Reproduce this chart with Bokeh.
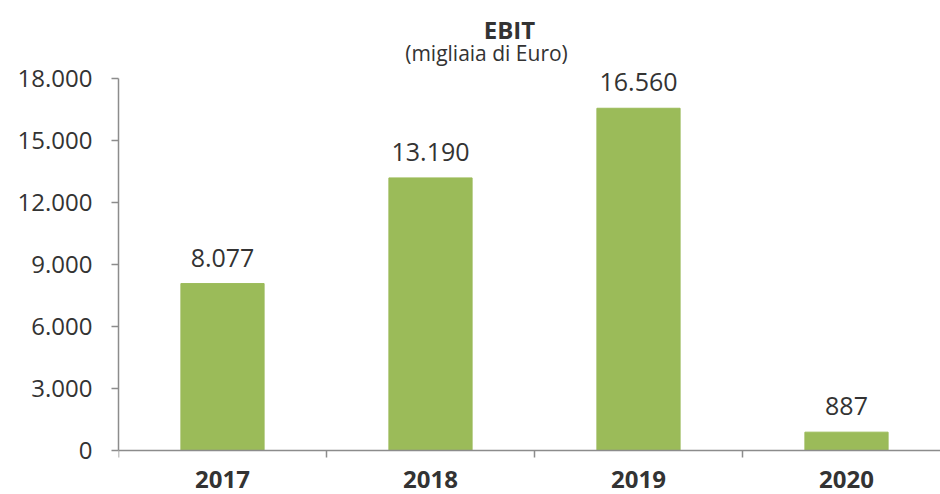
from bokeh.plotting import figure
from bokeh.models import (Range1d, FixedTicker, ColumnDataSource, LabelSet,
                          Label, LinearAxis)
from bokeh.core.properties import value
from bokeh.embed import file_html
from bokeh.resources import INLINE

# ---- data ----
years = ["2017", "2018", "2019", "2020"]
ebit = [8077, 13190, 16560, 887]
y_ticks = [0, 3000, 6000, 9000, 12000, 15000, 18000]
y_tick_labels = ["0", "3.000", "6.000", "9.000", "12.000", "15.000", "18.000"]
title_text = "EBIT"
subtitle_text = "(migliaia di Euro)"

FONT = "Open Sans"
TEXT = "#333333"
AXIS = "#8c8c8c"
GREEN = "#9BBB59"

# ---- layout constants (pixels) ----
W, H = 940, 494
LEFT = 118            # frame left edge
ZERO_PX = 450         # pixel row of value 0
TOP_PX = 78           # pixel row of value 18000
CAT_PX = 208          # pixel width of one category slot
YMAX = y_ticks[-1]
per_px = YMAX / (ZERO_PX - TOP_PX)

x = [i + 0.5 for i in range(len(years))]
labels = [f"{v:,}".replace(",", ".") for v in ebit]
src = ColumnDataSource(dict(x=x, top=ebit, year=years, label=labels))

p = figure(width=W, height=H,
           x_range=Range1d(0, (W - LEFT) / CAT_PX),
           y_range=Range1d(-(H - ZERO_PX) * per_px, YMAX + TOP_PX * per_px),
           output_backend="svg", toolbar_location=None,
           x_axis_location=None,
           min_border_left=LEFT, min_border_right=0,
           min_border_top=0, min_border_bottom=0)

p.vbar(x="x", top="top", width=0.40, source=src, color=GREEN)

p.xgrid.visible = False
p.ygrid.visible = False
p.outline_line_color = None
p.background_fill_color = "white"
p.border_fill_color = "white"

# x axis at value 0, labels at category centres, ticks at boundaries
xa = LinearAxis(fixed_location=0)
xa.ticker = FixedTicker(ticks=x, minor_ticks=list(range(len(years) + 1)))
xa.major_label_overrides = {xi: yr for xi, yr in zip(x, years)}
xa.major_label_text_font = FONT
xa.major_label_text_font_size = "24px"
xa.major_label_text_font_style = "bold"
xa.major_label_text_color = TEXT
xa.major_label_standoff = 13
xa.major_tick_in = 0
xa.major_tick_out = 0
xa.minor_tick_in = 0
xa.minor_tick_out = 7
xa.axis_line_color = AXIS
xa.axis_line_width = 1.5
xa.minor_tick_line_color = AXIS
xa.minor_tick_line_width = 1.5
p.add_layout(xa, "below")

ya = p.yaxis[0]
ya.bounds = (0, YMAX)
ya.ticker = FixedTicker(ticks=y_ticks)
ya.major_label_overrides = {t: l for t, l in zip(y_ticks, y_tick_labels)}
ya.major_label_text_font = FONT
ya.major_label_text_font_size = "24px"
ya.major_label_text_color = TEXT
ya.major_label_standoff = 19
ya.major_tick_in = 0
ya.major_tick_out = 7
ya.minor_tick_out = 0
ya.minor_tick_in = 0
ya.axis_line_color = AXIS
ya.axis_line_width = 1.5
ya.major_tick_line_color = AXIS
ya.major_tick_line_width = 1.5

# value labels above bars
p.add_layout(LabelSet(x="x", y="top", text="label", source=src,
                      text_align="center", text_baseline="alphabetic",
                      y_offset=17, text_font=value(FONT),
                      text_font_size="25px", text_color=TEXT))

# titles (centred around pixel column 486)
tx = (486 - LEFT) / CAT_PX
p.add_layout(Label(x=tx, y=YMAX, x_offset=23, y_offset=TOP_PX - 29,
                   text=title_text,
                   text_align="center", text_baseline="alphabetic",
                   text_font=FONT, text_font_size="24px",
                   text_font_style="bold", text_color=TEXT))
p.add_layout(Label(x=tx, y=YMAX, y_offset=TOP_PX - 52, text=subtitle_text,
                   text_align="center", text_baseline="alphabetic",
                   text_font=FONT, text_font_size="21px",
                   text_color=TEXT))

open("out.html", "w").write(file_html(p, INLINE))
